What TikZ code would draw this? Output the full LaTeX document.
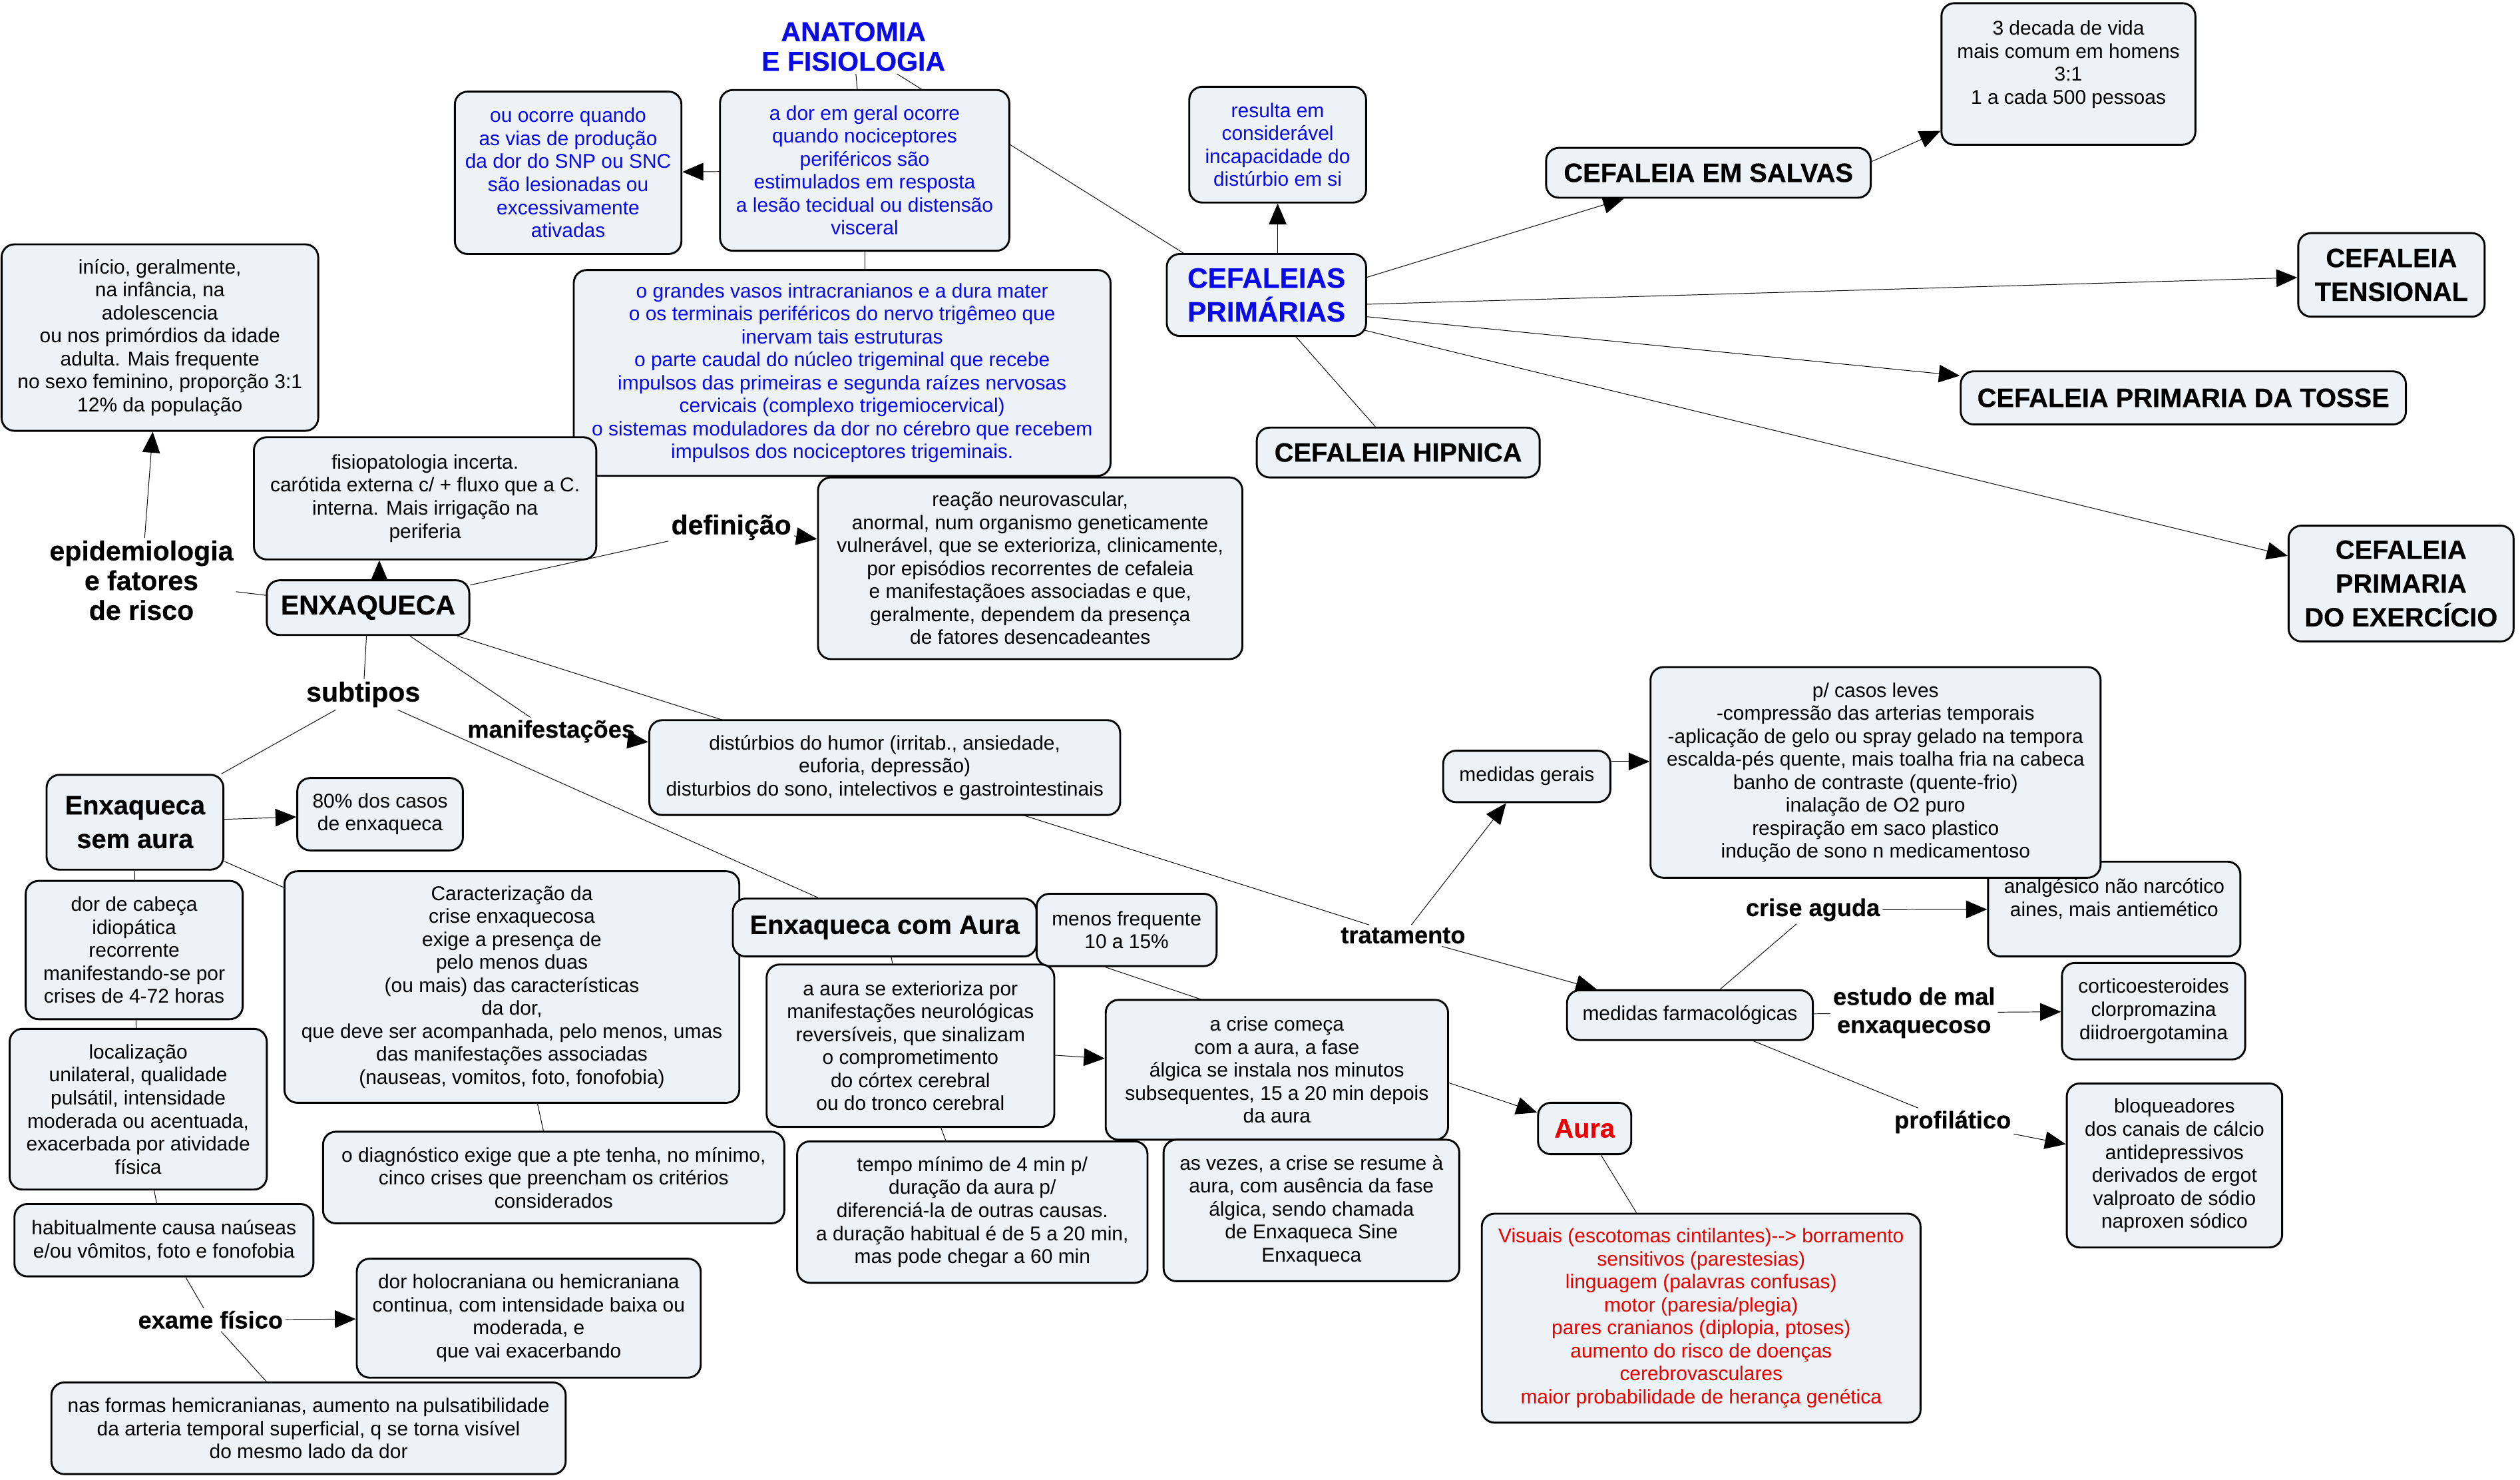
\documentclass[tikz,border=0pt]{standalone}
\usepackage{fontspec}
\setmainfont{Liberation Sans}[BoldFeatures={FakeBold=0.4}]
\usetikzlibrary{arrows.meta,backgrounds}
\definecolor{boxfill}{RGB}{236,242,245}
\definecolor{mapblue}{RGB}{10,10,230}
\definecolor{mapred}{RGB}{235,0,0}
\newcommand{\mapsmall}{\fontsize{12.4}{14.3}\selectfont}
\newcommand{\maptitle}{\fontsize{16.5}{21}\selectfont\bfseries}
\newcommand{\maplink}{\fontsize{15}{17.5}\selectfont\bfseries}
\newcommand{\maplinkbig}{\fontsize{17}{18.5}\selectfont\bfseries}
\tikzset{
	concept/.style={draw, line width=1.2pt, rounded corners=8pt, fill=boxfill, align=center, inner sep=2pt, font=\mapsmall},
	titlebox/.style={concept, font=\maptitle},
	linkword/.style={align=center, inner sep=1.5pt, font=\maplink},
	boxsize/.style 2 args={minimum width=#1pt, minimum height=#2pt},
}
\begin{document}
\begin{tikzpicture}[x=1pt, y=-1pt, >={Triangle[length=13pt,width=11pt]}]
	\useasboundingbox (0,0) rectangle (1568,920.3);
	%anatomia e fisiologia
		\node (anatomia) at (531,29) [linkword, font=\maplinkbig, text=mapblue]{ANATOMIA\\E FISIOLOGIA};
		\node (ouocorre) at (353.5,107.5) [concept, boxsize={141}{101}, text=mapblue]{ou ocorre quando\\as vias de produção\\da dor do SNP ou SNC\\são lesionadas ou\\excessivamente\\ativadas};
		\node (ador) at (538,106) [concept, boxsize={180}{100}, text=mapblue]{a dor em geral ocorre\\quando nociceptores\\periféricos são\\estimulados em resposta\\a lesão tecidual ou distensão\\visceral};
		\node (vasos) at (524,232) [concept, boxsize={334}{128}, text=mapblue]{o grandes vasos intracranianos e a dura mater\\o os terminais periféricos do nervo trigêmeo que\\inervam tais estruturas\\o parte caudal do núcleo trigeminal que recebe\\impulsos das primeiras e segunda raízes nervosas\\cervicais (complexo trigemiocervical)\\o sistemas moduladores da dor no cérebro que recebem\\impulsos dos nociceptores trigeminais.};
	%enxaqueca
		\node (inicio) at (99.5,210) [concept, boxsize={197}{116}]{início, geralmente,\\na infância, na\\adolescencia\\ou nos primórdios da idade\\adulta. Mais frequente\\no sexo feminino, proporção 3:1\\12\% da população};
		\node (fisio) at (264.5,310) [concept, boxsize={213}{76}]{fisiopatologia incerta.\\carótida externa c/ + fluxo que a C.\\interna. Mais irrigação na\\periferia};
		\node (reacao) at (641,353.5) [concept, boxsize={264}{113}]{reação neurovascular,\\anormal, num organismo geneticamente\\vulnerável, que se exterioriza, clinicamente,\\por episódios recorrentes de cefaleia\\e manifestaçãoes associadas e que,\\geralmente, dependem da presença\\de fatores desencadeantes};
		\node (enxaqueca) at (229,378) [titlebox, font=\fontsize{17}{21}\selectfont\bfseries, boxsize={126}{34}]{ENXAQUECA};
		\node (epidem) at (88,361) [linkword, font=\maplinkbig]{epidemiologia\\e fatores\\de risco};
		\node (definicao) at (455,328) [linkword, font=\maplinkbig]{definição};
		\node (subtipos) at (226,432) [linkword, font=\maplinkbig]{subtipos};
		\node (manifest) at (343,455) [linkword]{manifestações};
		\node (disturbios) at (550.5,477.5) [concept, boxsize={293}{59}]{distúrbios do humor (irritab., ansiedade,\\euforia, depressão)\\disturbios do sono, intelectivos e gastrointestinais};
	%sem aura
		\node (semaura) at (84,511.5) [titlebox, boxsize={110}{59}]{Enxaqueca\\sem aura};
		\node (oitenta) at (236.5,506.5) [concept, boxsize={103}{45}]{80\% dos casos\\de enxaqueca};
		\node (dorcabeca) at (83.5,591) [concept, boxsize={135}{86}]{dor de cabeça\\idiopática\\recorrente\\manifestando-se por\\crises de 4-72 horas};
		\node (caracter) at (318.5,614) [concept, boxsize={283}{144}]{Caracterização da\\crise enxaquecosa\\exige a presença de\\pelo menos duas\\(ou mais) das características\\da dor,\\que deve ser acompanhada, pelo menos, umas\\das manifestações associadas\\(nauseas, vomitos, foto, fonofobia)};
		\node (localiz) at (86,690) [concept, boxsize={160}{100}]{localização\\unilateral, qualidade\\pulsátil, intensidade\\moderada ou acentuada,\\exacerbada por atividade\\física};
		\node (diagnostico) at (344.5,732.5) [concept, boxsize={287}{57}]{o diagnóstico exige que a pte tenha, no mínimo,\\cinco crises que preencham os critérios\\considerados};
		\node (habitual) at (102,771.5) [concept, boxsize={186}{45}]{habitualmente causa naúseas\\e/ou vômitos, foto e fonofobia};
		\node (exame) at (131,821) [linkword]{exame físico};
		\node (holocran) at (329,820) [concept, boxsize={214}{74}]{dor holocraniana ou hemicraniana\\continua, com intensidade baixa ou\\moderada, e\\que vai exacerbando};
		\node (hemicran) at (192,888.5) [concept, boxsize={320}{57}]{nas formas hemicranianas, aumento na pulsatibilidade\\da arteria temporal superficial, q se torna visível\\do mesmo lado da dor};
	%com aura
		\node (comaura) at (550.5,577) [titlebox, boxsize={189}{36}]{Enxaqueca com Aura};
		\node (menosfreq) at (701,578.5) [concept, boxsize={112}{45}]{menos frequente\\10 a 15\%};
		\node (auraext) at (566.5,650.5) [concept, boxsize={179}{101}]{a aura se exterioriza por\\manifestações neurológicas\\reversíveis, que sinalizam\\o comprometimento\\do córtex cerebral\\ou do tronco cerebral};
		\node (crisecomeca) at (794.5,665.5) [concept, boxsize={213}{87}]{a crise começa\\com a aura, a fase\\álgica se instala nos minutos\\subsequentes, 15 a 20 min depois\\da aura};
		\node (tempomin) at (605,754) [concept, boxsize={218}{88}]{tempo mínimo de 4 min p/\\duração da aura p/\\diferenciá-la de outras causas.\\a duração habitual é de 5 a 20 min,\\mas pode chegar a 60 min};
		\node (asvezes) at (816,753) [concept, boxsize={184}{88}]{as vezes, a crise se resume à\\aura, com ausência da fase\\álgica, sendo chamada\\de Enxaqueca Sine\\Enxaqueca};
		\node (aura) at (986,702) [titlebox, boxsize={58}{32}, text=mapred]{Aura};
		\node (visuais) at (1058.5,820) [concept, boxsize={273}{130}, text=mapred]{Visuais (escotomas cintilantes)-{}-> borramento\\sensitivos (parestesias)\\linguagem (palavras confusas)\\motor (paresia/plegia)\\pares cranianos (diplopia, ptoses)\\aumento do risco de doenças\\cerebrovasculares\\maior probabilidade de herança genética};
	%tratamento
		\node (tratamento) at (873,582) [linkword]{tratamento};
		\node (medgerais) at (950,483) [concept, boxsize={104}{32}]{medidas gerais};
		\node (analgesico) at (1315.5,565.5) [concept, boxsize={157}{59}]{analgésico não narcótico\\aines, mais antiemético\\~};
		\node (pcasos) at (1167,480.5) [concept, boxsize={280}{131}]{p/ casos leves\\-compressão das arterias temporais\\-aplicação de gelo ou spray gelado na tempora\\escalda-pés quente, mais toalha fria na cabeca\\banho de contraste (quente-frio)\\inalação de O2 puro\\respiração em saco plastico\\indução de sono n medicamentoso};
		\node (criseaguda) at (1128,566) [linkword]{crise aguda};
		\node (medfarm) at (1051.5,631.5) [concept, boxsize={153}{31}]{medidas farmacológicas};
		\node (estudo) at (1191,630) [linkword]{estudo de mal\\enxaquecoso};
		\node (cortico) at (1340,629) [concept, boxsize={114}{60}]{corticoesteroides\\clorpromazina\\diidroergotamina};
		\node (profilatico) at (1215,698) [linkword]{profilático};
		\node (bloqueadores) at (1353,725) [concept, boxsize={134}{102}]{bloqueadores\\dos canais de cálcio\\antidepressivos\\derivados de ergot\\valproato de sódio\\naproxen sódico};
	%cefaleias primarias
		\node (resulta) at (795,90) [concept, boxsize={110}{72}, text=mapblue]{resulta em\\considerável\\incapacidade do\\distúrbio em si};
		\node (primarias) at (788,183.5) [titlebox, font=\fontsize{17.5}{21}\selectfont\bfseries, boxsize={124}{51}, text=mapblue]{CEFALEIAS\\PRIMÁRIAS};
		\coordinate (primhub) at (790,191);
		\node (salvas) at (1063,107.5) [titlebox, boxsize={202}{31}]{CEFALEIA EM SALVAS};
		\node (decada) at (1287,46) [concept, boxsize={158}{88}]{3 decada de vida\\mais comum em homens\\3:1\\1 a cada 500 pessoas\\~};
		\node (tensional) at (1488,171) [titlebox, boxsize={116}{52}]{CEFALEIA\\TENSIONAL};
		\node (tosse) at (1358.5,247.5) [titlebox, boxsize={277}{33}]{CEFALEIA PRIMARIA DA TOSSE};
		\node (hipnica) at (870,281.5) [titlebox, boxsize={176}{31}]{CEFALEIA HIPNICA};
		\node (exercicio) at (1494,363) [titlebox, boxsize={140}{72}]{CEFALEIA\\PRIMARIA\\DO EXERCÍCIO};
	%connectors
	\begin{scope}[on background layer, line width=1.2pt]
		\draw (anatomia) -- (ador);
		\draw (anatomia) -- (primhub);
		\draw[->] (ador) -- (ouocorre);
		\draw (ador.south) -- (ador.south |- vasos.north);
		\draw (enxaqueca) -- (epidem);
		\draw[->] (epidem) -- (inicio);
		\draw[->] ([xshift=7pt]enxaqueca.north) -- ([xshift=7pt]enxaqueca.north |- fisio.south);
		\draw (enxaqueca) -- (definicao);
		\draw[->] (definicao) -- (reacao);
		\draw (enxaqueca) -- (subtipos);
		\draw (enxaqueca) -- (manifest);
		\draw[->] (manifest) -- (disturbios);
		\draw (enxaqueca) -- (tratamento);
		\draw (subtipos) -- (semaura);
		\draw (subtipos) -- (comaura);
		\draw[->] (semaura) -- (oitenta);
		\draw (semaura) -- (dorcabeca);
		\draw (semaura) -- (caracter);
		\draw (dorcabeca) -- (localiz);
		\draw (localiz) -- (habitual);
		\draw (habitual) -- (exame);
		\draw[->] (exame) -- (holocran);
		\draw (exame) -- (hemicran);
		\draw (caracter) -- (diagnostico);
		\draw (comaura) -- (auraext);
		\draw[->] (auraext) -- (crisecomeca);
		\draw (auraext) -- (tempomin);
		\draw[->] (menosfreq.-120) -- (aura);
		\draw (aura) -- (visuais);
		\draw[->] (tratamento) -- (medgerais);
		\draw[->] (tratamento) -- (medfarm);
		\draw[->] (medgerais.10) -- (medgerais.10 -| pcasos.west);
		\draw (medfarm) -- (criseaguda);
		\draw[->] (criseaguda) -- (analgesico);
		\draw (medfarm) -- (estudo);
		\draw[->] (estudo) -- (cortico);
		\draw (medfarm) -- (profilatico);
		\draw[->] (profilatico) -- (bloqueadores);
		\draw[->] (resulta.south |- primarias.north) -- (resulta.south);
		\draw[->] (primhub) -- (salvas);
		\draw[->] ([yshift=7pt]salvas.east) -- (decada);
		\draw[->] (primhub) -- (tensional);
		\draw[->] (primhub) -- (tosse);
		\draw (primhub) -- (hipnica);
		\draw[->] (primhub) -- (exercicio);
	\end{scope}
\end{tikzpicture}
\end{document}
